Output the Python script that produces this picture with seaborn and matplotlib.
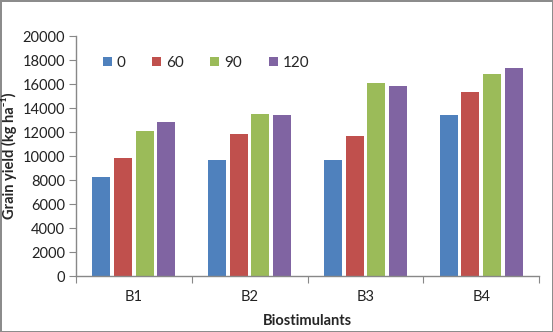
import matplotlib
matplotlib.use("Agg")
import matplotlib.pyplot as plt
import seaborn as sns
import pandas as pd

categories = ["B1", "B2", "B3", "B4"]
doses = ["0", "60", "90", "120"]
yield_0 = [8250, 9700, 9700, 13450]
yield_60 = [9830, 11800, 11650, 15350]
yield_90 = [12050, 13500, 16080, 16830]
yield_120 = [12820, 13420, 15830, 17300]
yticks = [0, 2000, 4000, 6000, 8000, 10000, 12000, 14000, 16000, 18000, 20000]

colors = ["#4F81BD", "#C0504D", "#9BBB59", "#8064A2"]

rows = []
for dose, vals in zip(doses, [yield_0, yield_60, yield_90, yield_120]):
    for cat, v in zip(categories, vals):
        rows.append({"Biostimulants": cat, "Dose": dose, "Yield": v})
df = pd.DataFrame(rows)

sns.set_style("white")
plt.rcParams["font.family"] = ["Lato", "DejaVu Sans"]

fig = plt.figure(figsize=(5.53, 3.32), dpi=100)
fig.patch.set_edgecolor("#8c8c8c")
fig.patch.set_linewidth(2)
ax = fig.add_axes([76 / 553, 56 / 332, 463 / 553, 240 / 332])

sns.barplot(data=df, x="Biostimulants", y="Yield", hue="Dose",
            order=categories, hue_order=doses, palette=colors,
            width=0.75, gap=0.17, saturation=1, errorbar=None, ax=ax,
            edgecolor="none")

ax.set_ylim(0, 20000)
ax.set_yticks(yticks)
ax.set_yticklabels([str(t) for t in yticks], fontsize=10.5, color="#222222")
ax.set_xlim(-0.5, 3.5)
ax.set_xticks([-0.5, 0.5, 1.5, 2.5, 3.5])
ax.set_xticklabels([])
ax.set_xticks(range(len(categories)), minor=True)
ax.set_xticklabels(categories, minor=True, fontsize=10.5, color="#222222")
ax.tick_params(axis="x", which="major", length=5, color="#888888", direction="out", bottom=True)
ax.tick_params(axis="x", which="minor", length=0, pad=10)
ax.tick_params(axis="y", length=5, color="#888888", direction="out", left=True, pad=3)

for side in ["top", "right"]:
    ax.spines[side].set_visible(False)
for side in ["left", "bottom"]:
    ax.spines[side].set_color("#888888")
    ax.spines[side].set_linewidth(1)

ax.set_xlabel("Biostimulants", fontsize=10.5, fontweight="bold", labelpad=7)
ax.set_ylabel("Grain yield (kg ha\u207b\u00b9)", fontsize=10.5, fontweight="bold", labelpad=4)

ax.legend(loc="upper left", bbox_to_anchor=(0.028, 0.975), ncol=4, frameon=False,
          fontsize=11, handlelength=0.6, handleheight=0.6, handletextpad=0.3,
          columnspacing=1.75, title=None)

fig.savefig("out.png", dpi=100)
